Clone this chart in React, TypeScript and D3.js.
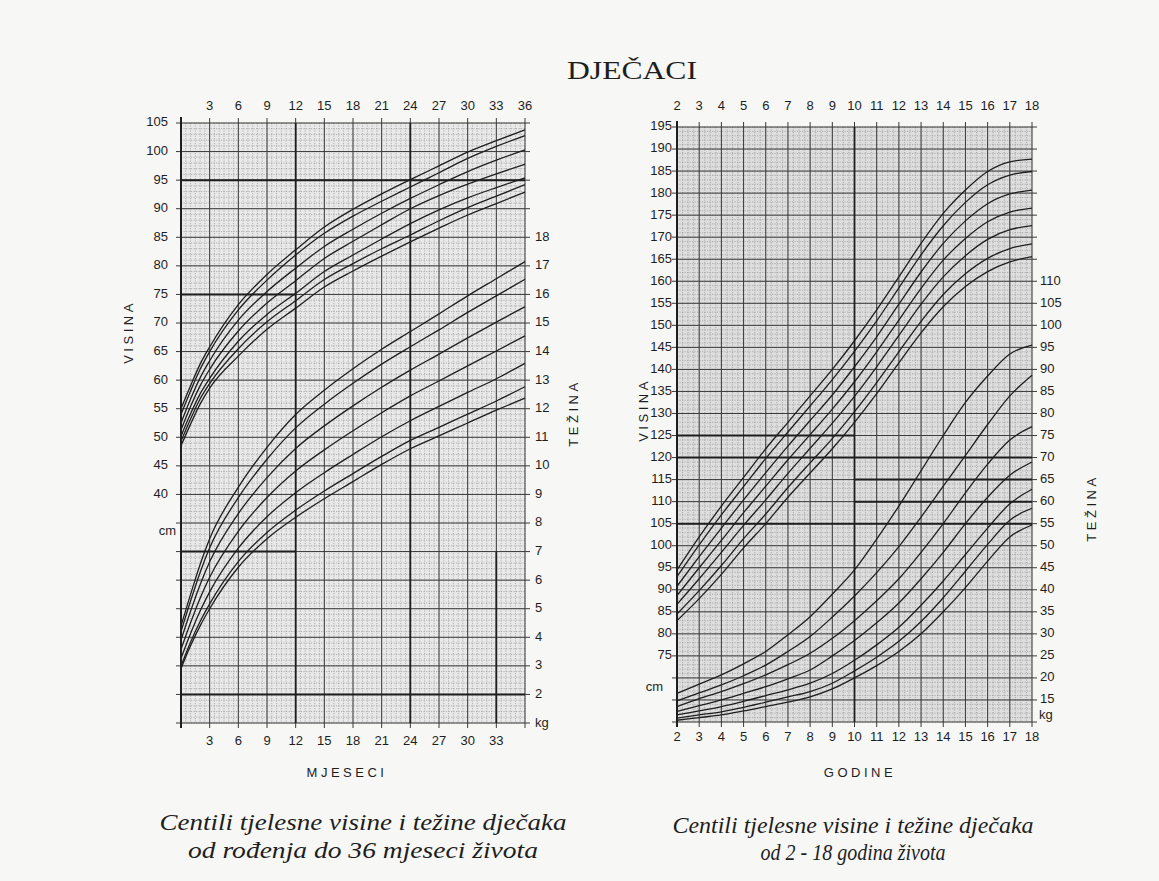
import React from 'react';
import * as d3 from 'd3';

// ---- infant chart: 0 - 36 months ----
const months = [0, 1, 2, 3, 6, 9, 12, 15, 18, 21, 24, 27, 30, 33, 36];

const infHeight97 = [55.0, 59.0, 62.8, 65.8, 73.2, 78.5, 82.8, 86.8, 89.9, 92.6, 95.1, 97.5, 99.9, 101.9, 103.8];
const infHeight90 = [54.0, 58.1, 61.9, 65.0, 72.3, 77.5, 81.9, 85.7, 88.7, 91.3, 93.8, 96.3, 98.8, 100.9, 102.8];
const infHeight75 = [52.5, 56.7, 60.4, 63.4, 70.5, 75.5, 79.6, 83.4, 86.4, 89.2, 91.8, 94.2, 96.5, 98.5, 100.3];
const infHeight50 = [51.3, 55.4, 59.0, 61.9, 68.6, 73.5, 77.4, 81.3, 84.3, 87.2, 90.0, 92.3, 94.3, 96.1, 97.8];
const infHeight25 = [50.2, 54.1, 57.6, 60.3, 66.8, 71.5, 75.2, 79.0, 81.9, 84.7, 87.4, 89.8, 91.9, 93.7, 95.4];
const infHeight10 = [49.3, 53.2, 56.7, 59.4, 65.5, 70.2, 73.9, 77.6, 80.4, 83.0, 85.4, 87.9, 90.2, 92.2, 94.2];
const infHeight3 = [48.5, 52.3, 55.8, 58.6, 64.2, 68.9, 72.6, 76.3, 79.1, 81.7, 84.2, 86.6, 88.9, 90.9, 92.9];

const infWeight97 = [4.4, 5.5, 6.55, 7.45, 9.25, 10.65, 11.8, 12.65, 13.4, 14.08, 14.7, 15.32, 15.95, 16.55, 17.15];
const infWeight90 = [4.2, 5.27, 6.27, 7.13, 8.89, 10.23, 11.33, 12.16, 12.89, 13.56, 14.17, 14.76, 15.37, 15.95, 16.53];
const infWeight75 = [3.9, 4.91, 5.84, 6.64, 8.33, 9.59, 10.61, 11.4, 12.1, 12.75, 13.35, 13.91, 14.48, 15.03, 15.57];
const infWeight50 = [3.58, 4.51, 5.37, 6.1, 7.71, 8.89, 9.82, 10.56, 11.23, 11.86, 12.45, 12.97, 13.5, 14.02, 14.55];
const infWeight25 = [3.26, 4.13, 4.92, 5.59, 7.12, 8.22, 9.06, 9.76, 10.4, 11.02, 11.58, 12.08, 12.57, 13.05, 13.59];
const infWeight10 = [3.0, 3.83, 4.55, 5.17, 6.65, 7.67, 8.45, 9.12, 9.73, 10.33, 10.89, 11.35, 11.81, 12.27, 12.77];
const infWeight3 = [2.9, 3.7, 4.4, 5.0, 6.45, 7.45, 8.2, 8.85, 9.45, 10.05, 10.6, 11.05, 11.5, 11.95, 12.37];

const monthTicksTop = [3, 6, 9, 12, 15, 18, 21, 24, 27, 30, 33, 36];
const monthTicksBottom = [3, 6, 9, 12, 15, 18, 21, 24, 27, 30, 33];
const infCmTicks = [40, 45, 50, 55, 60, 65, 70, 75, 80, 85, 90, 95, 100, 105];
const infKgTicks = [2, 3, 4, 5, 6, 7, 8, 9, 10, 11, 12, 13, 14, 15, 16, 17, 18];

// ---- child chart: 2 - 18 years ----
const ages = [2, 3, 4, 5, 6, 7, 8, 9, 10, 11, 12, 13, 14, 15, 16, 17, 18];

const chHeight97 = [94.5, 102, 109, 115.5, 122, 128, 134, 140, 146.5, 153.5, 161, 168.6, 175.4, 180.7, 184.9, 187.1, 187.7];
const chHeight90 = [93.0, 100.2, 107, 113.4, 119.8, 125.8, 131.7, 137.7, 144.1, 151.0, 158.5, 166.0, 172.6, 177.9, 181.9, 184.1, 184.9];
const chHeight75 = [90.8, 97.5, 104, 110.4, 116.6, 122.6, 128.4, 134.2, 140.6, 147.4, 154.8, 162.1, 168.6, 173.7, 177.6, 179.8, 180.7];
const chHeight50 = [88.7, 95, 101.2, 107.5, 113.5, 119.5, 125.2, 131, 137.2, 144, 151.2, 158.4, 164.8, 169.7, 173.5, 175.7, 176.6];
const chHeight25 = [86.7, 92.5, 98.5, 104.6, 110.4, 116.4, 122.1, 127.8, 133.9, 140.6, 147.7, 154.8, 161.0, 165.8, 169.5, 171.7, 172.6];
const chHeight10 = [84.5, 89.8, 95.5, 101.6, 107.2, 113.2, 118.8, 124.3, 130.4, 137.0, 144.0, 150.9, 157.0, 161.7, 165.2, 167.4, 168.5];
const chHeight3 = [83.0, 88, 93.5, 99.5, 105, 111, 116.5, 122, 128, 134.5, 141.5, 148.3, 154.2, 158.8, 162.2, 164.4, 165.6];

const chWeight97 = [16.5, 18.6, 20.7, 23.2, 26, 29.8, 33.9, 39, 44.5, 51.5, 59, 67, 75, 82.5, 88.5, 93.5, 95.5];
const chWeight90 = [14.8, 16.6, 18.4, 20.5, 22.9, 26, 29.4, 33.8, 38.6, 43.9, 49.8, 56.5, 63.5, 70.5, 77.5, 84, 88.7];
const chWeight75 = [13.5, 15.3, 16.9, 18.7, 20.7, 23, 25.6, 29, 33, 37.5, 42.5, 48.5, 55, 62, 68.5, 74, 77];
const chWeight50 = [12.4, 13.7, 15.0, 16.5, 18.0, 19.8, 21.8, 25, 28.5, 32.5, 37, 42.5, 48.5, 55, 61, 66, 69];
const chWeight25 = [11.6, 12.5, 13.5, 14.7, 16.0, 17.3, 18.8, 21.0, 24.0, 27.5, 31.5, 36.5, 42.0, 48.0, 54.0, 59.5, 62.8];
const chWeight10 = [10.9, 11.6, 12.3, 13.3, 14.5, 15.7, 16.9, 18.8, 21.6, 24.7, 28.3, 32.8, 38.2, 44.2, 50.3, 55.8, 58.5];
const chWeight3 = [10.4, 11.0, 11.6, 12.5, 13.5, 14.5, 15.7, 17.5, 20.0, 22.8, 26.0, 30.0, 35.0, 40.5, 46.5, 52.0, 54.7];

const ageTicks = [2, 3, 4, 5, 6, 7, 8, 9, 10, 11, 12, 13, 14, 15, 16, 17, 18];
const chCmTicks = [75, 80, 85, 90, 95, 100, 105, 110, 115, 120, 125, 130, 135, 140, 145, 150, 155, 160, 165, 170, 175, 180, 185, 190, 195];
const chKgTicks = [15, 20, 25, 30, 35, 40, 45, 50, 55, 60, 65, 70, 75, 80, 85, 90, 95, 100, 105, 110];

const infantHeights = [infHeight97, infHeight90, infHeight75, infHeight50, infHeight25, infHeight10, infHeight3];
const infantWeights = [infWeight97, infWeight90, infWeight75, infWeight50, infWeight25, infWeight10, infWeight3];
const childHeights = [chHeight97, chHeight90, chHeight75, chHeight50, chHeight25, chHeight10, chHeight3];
const childWeights = [chWeight97, chWeight90, chWeight75, chWeight50, chWeight25, chWeight10, chWeight3];

const SANS = '"Liberation Sans", Arial, sans-serif';
const SERIF = '"Liberation Serif", "Times New Roman", serif';
const INK = '#1e1e1e';

// scales
const xM = d3.scaleLinear().domain([0, 36]).range([181, 525]);
const yCm = d3.scaleLinear().domain([0, 105]).range([723, 123]);
const yKg = d3.scaleLinear().domain([1, 22]).range([723, 123]);

const xA = d3.scaleLinear().domain([2, 18]).range([677, 1032]);
const yCmR = d3.scaleLinear().domain([60, 195]).range([722, 127]);
const yKgR = d3.scaleLinear().domain([10, 145]).range([722, 127]);

function curvePath(xs: number[], vals: number[], x: d3.ScaleLinear<number, number>, y: d3.ScaleLinear<number, number>) {
  const line = d3.line<number>()
    .x((_, i) => x(xs[i]))
    .y(d => y(d))
    .curve(d3.curveMonotoneX);
  return line(vals) || '';
}

function Grid({ x, y, xMinor, xMajor, yMinor, yMajor, fill }: any) {
  const [x0, x1] = x.range();
  const [y0, y1] = y.range();
  return (
    <g>
      <rect x={x0} y={y1} width={x1 - x0} height={y0 - y1} fill={fill} />
      {xMinor.map((v: number, i: number) => (
        <line key={'xm' + i} x1={x(v)} x2={x(v)} y1={y1} y2={y0} stroke="#8c8c8c" strokeWidth={0.6} strokeDasharray="1.2 1.3" />
      ))}
      {yMinor.map((v: number, i: number) => (
        <line key={'ym' + i} x1={x0} x2={x1} y1={y(v)} y2={y(v)} stroke="#8c8c8c" strokeWidth={0.6} strokeDasharray="1.2 1.3" />
      ))}
      {xMajor.map((v: number, i: number) => (
        <line key={'xM' + i} x1={x(v)} x2={x(v)} y1={y1 - 5} y2={y0 + 5} stroke="#3a3a3a" strokeWidth={1} />
      ))}
      {yMajor.map((v: number, i: number) => (
        <line key={'yM' + i} x1={x0 - 5} x2={x1 + 5} y1={y(v)} y2={y(v)} stroke="#3a3a3a" strokeWidth={1} />
      ))}
      <line x1={x0} x2={x0} y1={y1 - 6} y2={y0 + 5} stroke={INK} strokeWidth={2} />
    </g>
  );
}

function VLabel({ x, y, text }: { x: number; y: number; text: string }) {
  return (
    <text x={x} y={y} transform={`rotate(-90 ${x} ${y})`} textAnchor="middle" dominantBaseline="middle"
      fontFamily={SANS} fontSize={13} letterSpacing={3.5} fill={INK}>{text}</text>
  );
}

function InfantChart() {
  const xMinor = d3.range(0, 36.01, 0.5);
  const yMinor = d3.range(0, 105.01, 1);
  const xMajor = d3.range(0, 36.01, 3);
  const yMajor = d3.range(0, 105.01, 5);
  const bold = [
    { v: 95, a: 0, b: 36 }, { v: 75, a: 0, b: 12 }, { v: 30, a: 0, b: 12 }, { v: 5, a: 0, b: 36 },
  ];
  const boldV = [{ m: 12, a: 0, b: 105 }, { m: 24, a: 0, b: 105 }, { m: 33, a: 0, b: 30 }];
  return (
    <g>
      <Grid x={xM} y={yCm} xMinor={xMinor} xMajor={xMajor} yMinor={yMinor} yMajor={yMajor} fill="#e9e9e9" />
      {bold.map((d, i) => (
        <line key={'b' + i} x1={xM(d.a)} x2={xM(d.b)} y1={yCm(d.v)} y2={yCm(d.v)} stroke={INK} strokeWidth={2} />
      ))}
      {boldV.map((d, i) => (
        <line key={'bv' + i} x1={xM(d.m)} x2={xM(d.m)} y1={yCm(d.a)} y2={yCm(d.b)} stroke={INK} strokeWidth={1.8} />
      ))}
      {infantHeights.map((s, i) => (
        <path key={'h' + i} d={curvePath(months, s, xM, yCm)} fill="none" stroke={INK} strokeWidth={1.3} />
      ))}
      {infantWeights.map((s, i) => (
        <path key={'w' + i} d={curvePath(months, s, xM, yKg)} fill="none" stroke={INK} strokeWidth={1.3} />
      ))}
      {monthTicksTop.map(m => (
        <text key={'tt' + m} x={xM(m)} y={110} textAnchor="middle" fontFamily={SANS} fontSize={13} fill={INK}>{m}</text>
      ))}
      {monthTicksBottom.map(m => (
        <text key={'tb' + m} x={xM(m)} y={745} textAnchor="middle" fontFamily={SANS} fontSize={13} fill={INK}>{m}</text>
      ))}
      {infCmTicks.map(c => (
        <text key={'c' + c} x={168} y={yCm(c)} textAnchor="end" dominantBaseline="middle" fontFamily={SANS} fontSize={13} fill={INK}>{c}</text>
      ))}
      <text x={176} y={532} textAnchor="end" dominantBaseline="middle" fontFamily={SANS} fontSize={13} fill={INK}>cm</text>
      {infKgTicks.map(k => (
        <text key={'k' + k} x={535} y={yKg(k)} dominantBaseline="middle" fontFamily={SANS} fontSize={13} fill={INK}>{k}</text>
      ))}
      <text x={535} y={724} dominantBaseline="middle" fontFamily={SANS} fontSize={13} fill={INK}>kg</text>
      <text x={347} y={777} textAnchor="middle" fontFamily={SANS} fontSize={13} letterSpacing={3.5} fill={INK}>MJESECI</text>
      <VLabel x={130} y={332} text="VISINA" />
      <VLabel x={575} y={413} text="TEŽINA" />
    </g>
  );
}

function ChildChart() {
  const xMinor = d3.range(2, 18.01, 0.25);
  const yMinor = d3.range(60, 195.01, 1);
  const xMajor = d3.range(2, 18.01, 1);
  const yMajor = d3.range(60, 195.01, 5);
  const bold = [
    { v: 125, a: 2, b: 10 }, { v: 120, a: 2, b: 18 }, { v: 115, a: 10, b: 18 }, { v: 110, a: 10, b: 18 }, { v: 105, a: 2, b: 18 },
  ];
  return (
    <g>
      <Grid x={xA} y={yCmR} xMinor={xMinor} xMajor={xMajor} yMinor={yMinor} yMajor={yMajor} fill="#dedede" />
      {bold.map((d, i) => (
        <line key={'b' + i} x1={xA(d.a)} x2={xA(d.b)} y1={yCmR(d.v)} y2={yCmR(d.v)} stroke={INK} strokeWidth={2} />
      ))}
      <line x1={xA(10)} x2={xA(10)} y1={yCmR(60)} y2={yCmR(195)} stroke={INK} strokeWidth={1.8} />
      {childHeights.map((s, i) => (
        <path key={'h' + i} d={curvePath(ages, s, xA, yCmR)} fill="none" stroke={INK} strokeWidth={1.3} />
      ))}
      {childWeights.map((s, i) => (
        <path key={'w' + i} d={curvePath(ages, s, xA, yKgR)} fill="none" stroke={INK} strokeWidth={1.3} />
      ))}
      {ageTicks.map(a => (
        <text key={'tt' + a} x={xA(a)} y={110} textAnchor="middle" fontFamily={SANS} fontSize={13} fill={INK}>{a}</text>
      ))}
      {ageTicks.map(a => (
        <text key={'tb' + a} x={xA(a)} y={741} textAnchor="middle" fontFamily={SANS} fontSize={13} fill={INK}>{a}</text>
      ))}
      {chCmTicks.map(c => (
        <text key={'c' + c} x={672} y={yCmR(c)} textAnchor="end" dominantBaseline="middle" fontFamily={SANS} fontSize={13} fill={INK}>{c}</text>
      ))}
      <text x={663} y={688} textAnchor="end" dominantBaseline="middle" fontFamily={SANS} fontSize={13} fill={INK}>cm</text>
      {chKgTicks.map(k => (
        <text key={'k' + k} x={1040} y={yKgR(k)} dominantBaseline="middle" fontFamily={SANS} fontSize={13} fill={INK}>{k}</text>
      ))}
      <text x={1039} y={716} dominantBaseline="middle" fontFamily={SANS} fontSize={13} fill={INK}>kg</text>
      <text x={860} y={777} textAnchor="middle" fontFamily={SANS} fontSize={13} letterSpacing={3.5} fill={INK}>GODINE</text>
      <VLabel x={645} y={410} text="VISINA" />
      <VLabel x={1093} y={508} text="TEŽINA" />
    </g>
  );
}

export default function App() {
  return (
    <svg width={1159} height={881} style={{ position: 'absolute', left: 0, top: 0, background: '#f7f7f5' }}>
      <rect width={1159} height={881} fill="#f7f7f5" />
      <text x={632} y={79} textAnchor="middle" fontFamily={SERIF} fontSize={25} textLength={130} lengthAdjust="spacingAndGlyphs" fill={INK}>DJEČACI</text>
      <InfantChart />
      <ChildChart />
      <g fontFamily={SERIF} fontStyle="italic" fontSize={24} fill={INK} textAnchor="middle">
        <text x={363} y={830} textLength={407} lengthAdjust="spacingAndGlyphs">Centili tjelesne visine i težine dječaka</text>
        <text x={363} y={858} textLength={350} lengthAdjust="spacingAndGlyphs">od rođenja do 36 mjeseci života</text>
        <text x={853} y={833} textLength={361} lengthAdjust="spacingAndGlyphs">Centili tjelesne visine i težine dječaka</text>
        <text x={853} y={860} textLength={185} lengthAdjust="spacingAndGlyphs">od 2 - 18 godina života</text>
      </g>
    </svg>
  );
}
